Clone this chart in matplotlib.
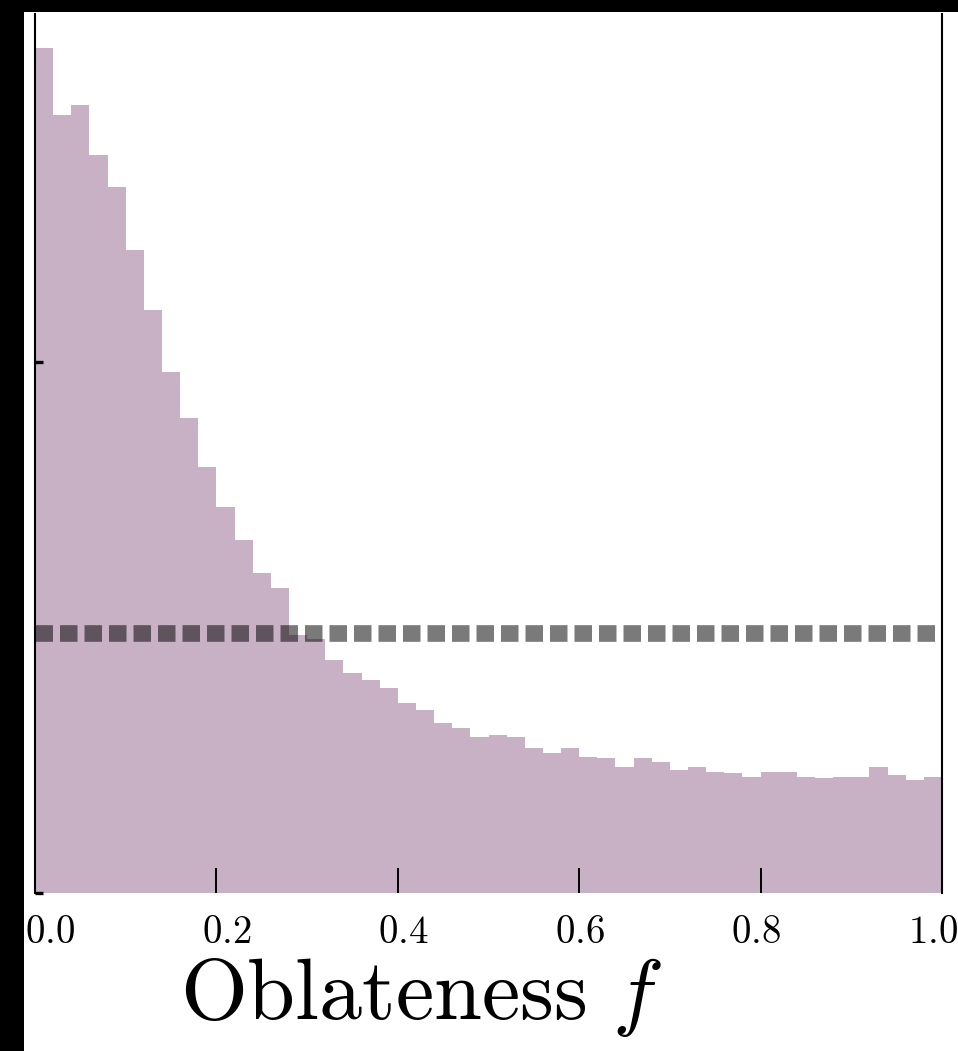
import numpy as np
import matplotlib
matplotlib.use("Agg")
import matplotlib.pyplot as plt
from matplotlib.patches import Rectangle
from matplotlib.ticker import FuncFormatter

plt.rcParams["mathtext.fontset"] = "cm"
plt.rcParams["font.family"] = ["DejaVu Serif"]

# ---- data -------------------------------------------------------------
n_bins = 50
bin_edges = np.linspace(0.0, 1.0, n_bins + 1)

# normalised posterior density of the oblateness, one value per bin
posterior_density = [
    3.183, 2.930, 2.968, 2.780, 2.659, 2.422, 2.196, 1.962, 1.789, 1.605,
    1.454, 1.330, 1.205, 1.149, 0.972, 0.955, 0.878, 0.829, 0.802, 0.772,
    0.716, 0.689, 0.640, 0.621, 0.588, 0.595, 0.588, 0.546, 0.527, 0.546,
    0.512, 0.508, 0.475, 0.508, 0.493, 0.463, 0.475, 0.456, 0.452, 0.437,
    0.456, 0.456, 0.437, 0.433, 0.437, 0.437, 0.475, 0.444, 0.426, 0.437,
]
# flat prior density
prior_density = 0.98

x_ticks = [0.0, 0.2, 0.4, 0.6, 0.8, 1.0]
y_ticks = [0.0, 2.0]
x_label = r"$\mathrm{Oblateness}\ f$"

# ---- figure -----------------------------------------------------------
W, H = 958, 1051
fig = plt.figure(figsize=(W / 100, H / 100), dpi=100)
fig.patch.set_facecolor("white")

ax = fig.add_axes([35 / W, 1 - 893 / H, 907 / W, 879 / H])
ax.stairs(posterior_density, bin_edges, fill=True, color="#c8b1c5",
          linewidth=0, zorder=1)
ax.axhline(prior_density, color="black", alpha=0.52, linewidth=12,
           linestyle=(0, (1.05, 0.42)), dash_capstyle="butt", zorder=2)

ax.set_xlim(0, 1)
ax.set_ylim(0, 3.31)

ax.set_xticks(x_ticks)
ax.set_yticks(y_ticks)
ax.tick_params(axis="x", direction="in", length=18, width=1.4,
               labelbottom=False)
ax.tick_params(axis="y", direction="in", length=6, width=2.4,
               labelleft=False)
for side in ("top", "bottom"):
    ax.spines[side].set_visible(False)
for side in ("left", "right"):
    ax.spines[side].set_linewidth(1.5)

# tick labels sit on a slightly narrower scale beneath the axis
lab_off, lab_scale = 15 / 907, 883 / 907
sec = ax.secondary_xaxis(
    "bottom",
    functions=(lambda x: (x - lab_off) / lab_scale,
               lambda s: lab_off + lab_scale * s),
)
sec.set_xticks(x_ticks)
sec.xaxis.set_major_formatter(FuncFormatter(lambda v, p: rf"${v:.1f}$"))
sec.tick_params(length=0, pad=15, labelsize=28)
sec.spines["bottom"].set_visible(False)

ax.set_xlabel(x_label, fontsize=62)
ax.xaxis.set_label_coords(0.426, -0.072)

# dark frame strips along the left and top edges
fig.add_artist(Rectangle((0, 0), 24 / W, 1, transform=fig.transFigure,
                         facecolor="black", edgecolor="none", zorder=10))
fig.add_artist(Rectangle((0, 1 - 12 / H), 1, 12 / H, transform=fig.transFigure,
                         facecolor="black", edgecolor="none", zorder=10))

fig.savefig("out.png", dpi=100, facecolor=fig.get_facecolor())
